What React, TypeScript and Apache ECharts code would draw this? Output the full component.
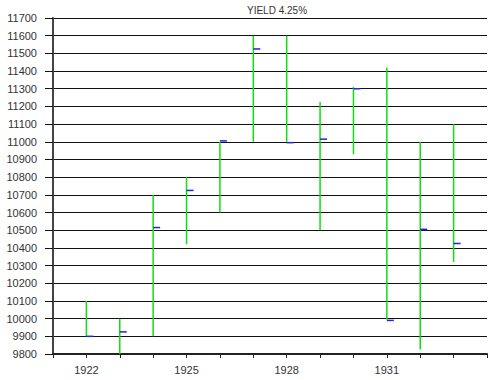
import React, { useEffect, useRef } from "react";
import * as echarts from "echarts";

const years = [1922, 1923, 1924, 1925, 1926, 1927, 1928, 1929, 1930, 1931, 1932, 1933];
const highs = [10100, 10000, 10700, 10800, 11000, 11600, 11600, 11225, 11310, 11420, 11000, 11100];
const lows = [9900, 9800, 9900, 10420, 10600, 11000, 11000, 10500, 10930, 9995, 9825, 10320];
const closes = [9900, 9925, 10515, 10725, 11005, 11525, 10995, 11015, 11300, 9990, 10505, 10425];
const labelYears = [1922, 1925, 1928, 1931];
const titleText = "YIELD 4.25%";

export default function App() {
  const ref = useRef<HTMLDivElement>(null);
  useEffect(() => {
    const chart = echarts.init(ref.current!, null, { renderer: "svg" });
    const data = years.map((y, i) => [y, highs[i], lows[i], closes[i]]);
    chart.setOption({
      animation: false,
      title: {
        text: titleText,
        left: 272,
        textAlign: "center",
        top: 0,
        textStyle: { fontSize: 10, fontWeight: "normal", color: "#333", fontFamily: "Liberation Sans" },
      },
      grid: { left: 53, right: -4, top: 18, bottom: 26 },
      xAxis: {
        type: "value",
        min: 1921,
        max: 1934,
        interval: 1,
        axisLine: { lineStyle: { color: "#222", width: 2 } },
        axisTick: { show: true, length: 4, lineStyle: { color: "#222" } },
        splitLine: { show: false },
        axisLabel: {
          margin: 10,
          fontSize: 11,
          color: "#333",
          fontFamily: "Liberation Sans",
          formatter: (v: number) => (labelYears.includes(v) ? String(v) : ""),
        },
      },
      yAxis: {
        type: "value",
        min: 9800,
        max: 11700,
        interval: 100,
        axisLine: { show: true, lineStyle: { color: "#444", width: 2 } },
        axisTick: { show: true, length: 8, lineStyle: { color: "#111" } },
        splitLine: { show: true, lineStyle: { color: "#111", width: 1 } },
        axisLabel: {
          margin: 16,
          fontSize: 11,
          color: "#333",
          fontFamily: "Liberation Sans",
          formatter: (v: number) => String(v),
        },
      },
      series: [
        {
          type: "custom",
          data,
          renderItem: (params: any, api: any) => {
            const x = api.value(0);
            const hi = api.coord([x, api.value(1)]);
            const lo = api.coord([x, api.value(2)]);
            const cl = api.coord([x, api.value(3)]);
            return {
              type: "group",
              children: [
                {
                  type: "line",
                  shape: { x1: hi[0], y1: hi[1], x2: lo[0], y2: lo[1] },
                  style: { stroke: "#11dd11", lineWidth: 1.5 },
                },
                {
                  type: "line",
                  shape: { x1: cl[0], y1: cl[1], x2: cl[0] + 7, y2: cl[1] },
                  style: { stroke: "#2222ee", lineWidth: 1.5 },
                },
              ],
            };
          },
        },
      ],
    });
    return () => chart.dispose();
  }, []);
  return (
    <div
      ref={ref}
      style={{ position: "fixed", left: 0, top: 0, width: 490, height: 380, background: "#fff" }}
    />
  );
}
